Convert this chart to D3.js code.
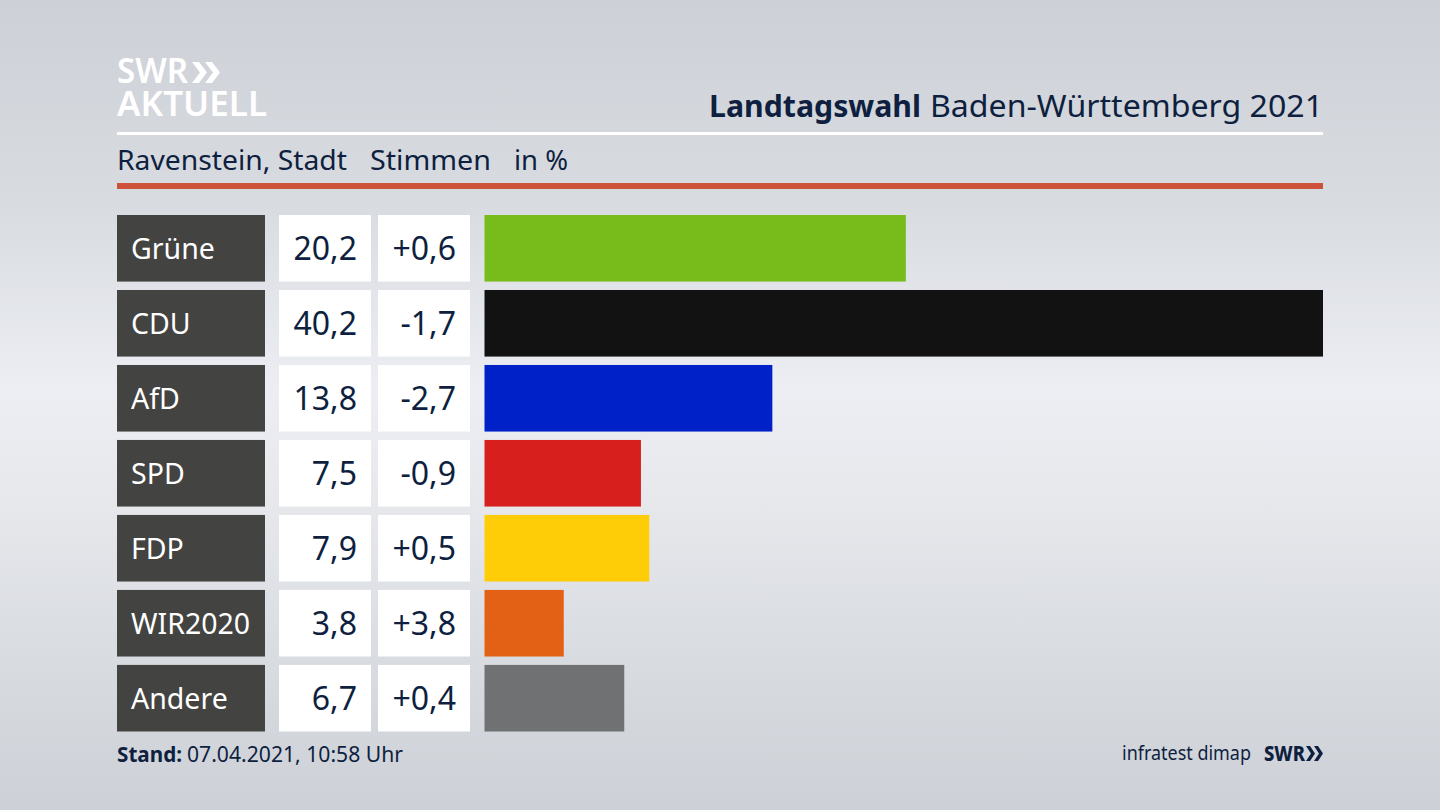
<!DOCTYPE html>
<html>
<head>
<meta charset="utf-8">
<script src="https://cdn.jsdelivr.net/npm/d3@7"></script>
<style>
  html, body { margin: 0; padding: 0; width: 1440px; height: 810px; overflow: hidden; }
  body { background: linear-gradient(180deg, #cdd1d7 0%, #d8dbe0 25%, #eceef3 48%, #e6e8ec 62%, #d6d9de 85%, #cdd0d6 100%); }
  svg { display: block; font-family: "Noto Sans", sans-serif; }
</style>
</head>
<body>
<svg id="chart" width="1440" height="810"></svg>
<script>
// values
const parties = ['Grüne', 'CDU', 'AfD', 'SPD', 'FDP', 'WIR2020', 'Andere']
const shares = [20.2, 40.2, 13.8, 7.5, 7.9, 3.8, 6.7]
const changes = ['+0,6', '-1,7', '-2,7', '-0,9', '+0,5', '+3,8', '+0,4']
const barColours = ['#78bc1b', '#121212', '#0021c7', '#d71f1d', '#ffcc08', '#e26115', '#707173']

const navy = '#0e1f3f'
const comma = d3.format('.1f')

const svg = d3.select('#chart')

const y = d3.scaleBand()
    .domain(parties)
    .range([215, 731.5])
    .paddingInner(0.112)
    .paddingOuter(0)

const x = d3.scaleLinear()
    .domain([0, 40.2])
    .range([484.5, 1323])

// fits a text to the width it has in the picture
function label(parent, str, px, py, size, len, weight) {
    return parent.append('text')
        .attr('x', px).attr('y', py)
        .attr('fill', navy)
        .attr('textLength', len)
        .attr('lengthAdjust', 'spacingAndGlyphs')
        .style('font-size', size + 'px')
        .style('font-weight', weight || 400)
        .text(str)
}

// header
const logo = svg.append('g').attr('fill', '#fff')
const logoText = logo.append('text').style('font-weight', 600)
logoText.append('tspan').attr('x', 117).attr('y', 83)
    .style('font-size', '35px').attr('textLength', 71).attr('lengthAdjust', 'spacingAndGlyphs').text('SWR')
logoText.append('tspan').attr('x', 117).attr('y', 116)
    .style('font-size', '35px').attr('textLength', 150).attr('lengthAdjust', 'spacingAndGlyphs').text('AKTUELL')
logo.selectAll('path')
    .data([192, 205])
    .join('path')
    .attr('d', d => `M${d} 62h7l8 10.5l-8 10.5h-7l8-10.5z`)

label(svg, 'Landtagswahl', 709, 117, 31, 212, 700)
label(svg, 'Baden-Württemberg 2021', 930, 117, 31, 393)

svg.append('rect').attr('x', 117).attr('y', 132).attr('width', 1206).attr('height', 3).attr('fill', '#fff')

label(svg, 'Ravenstein, Stadt', 117, 170, 28, 230)
label(svg, 'Stimmen', 370, 170, 28, 121)
label(svg, 'in %', 514, 170, 28, 54)

svg.append('rect').attr('x', 117).attr('y', 183).attr('width', 1206).attr('height', 6).attr('fill', '#cd5239')

// rows
const rows = svg.selectAll('.row')
    .data(parties)
    .join('g')
    .attr('class', 'row')
    .attr('transform', d => `translate(0,${y(d)})`)

rows.append('rect').attr('x', 117).attr('width', 148).attr('height', y.bandwidth()).attr('fill', '#434341')
rows.append('rect').attr('x', 279).attr('width', 92).attr('height', y.bandwidth()).attr('fill', '#fff')
rows.append('rect').attr('x', 378).attr('width', 92).attr('height', y.bandwidth()).attr('fill', '#fff')

rows.append('text')
    .attr('x', 131).attr('y', 44)
    .attr('fill', '#fff')
    .style('font-size', '28.5px')
    .text(d => d)

rows.append('text')
    .attr('x', 357).attr('y', 45)
    .attr('text-anchor', 'end')
    .attr('fill', navy)
    .style('font-size', '32px')
    .text((d, i) => comma(shares[i]).replace('.', ','))

rows.append('text')
    .attr('x', 456).attr('y', 45)
    .attr('text-anchor', 'end')
    .attr('fill', navy)
    .style('font-size', '32px')
    .text((d, i) => changes[i])

rows.append('rect')
    .attr('x', x(0))
    .attr('width', (d, i) => x(shares[i]) - x(0))
    .attr('height', y.bandwidth())
    .attr('fill', (d, i) => barColours[i])

// footer
label(svg, 'Stand:', 117, 762, 22, 65, 700)
label(svg, '07.04.2021, 10:58 Uhr', 187, 762, 22, 216)
label(svg, 'infratest dimap', 1122, 760, 20, 129)
label(svg, 'SWR', 1264, 761, 22, 41, 800)

svg.selectAll('.chev')
    .data([1306, 1314])
    .join('path')
    .attr('class', 'chev')
    .attr('fill', navy)
    .attr('d', d => `M${d} 746h4l5 7.5l-5 7.5h-4l5-7.5z`)
</script>
</body>
</html>
